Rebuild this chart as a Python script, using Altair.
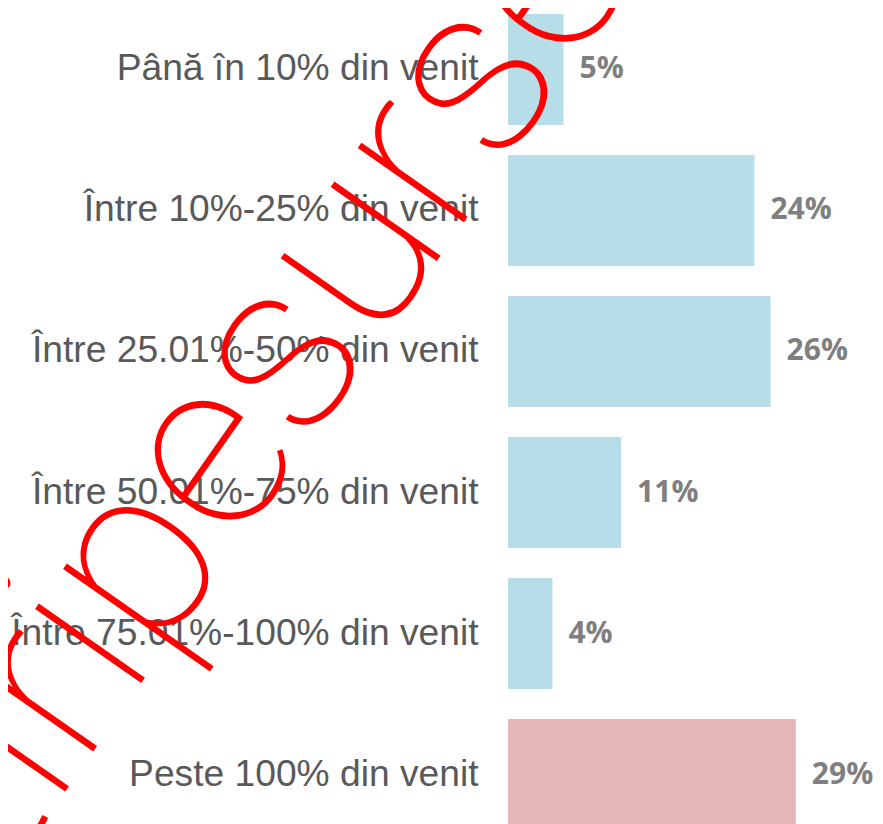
import altair as alt
import pandas as pd

categories = [
    "Până în 10% din venit",
    "Între 10%-25% din venit",
    "Între 25.01%-50% din venit",
    "Între 50.01%-75% din venit",
    "Între 75.01%-100% din venit",
    "Peste 100% din venit",
]
values = [5.5, 24.4, 26.0, 11.2, 4.4, 28.5]
value_labels = ["5%", "24%", "26%", "11%", "4%", "29%"]
highlight = "Peste 100% din venit"
watermark = ["stiripesurse"]

df = pd.DataFrame({"categorie": categories, "procent": values, "eticheta": value_labels})

y_enc = alt.Y(
    "categorie:N",
    sort=categories,
    title=None,
    scale=alt.Scale(paddingInner=0.2128, paddingOuter=0, range=[0, 816]),
    axis=alt.Axis(
        domain=False,
        ticks=False,
        labelFont="Liberation Sans",
        labelFontSize=37.2,
        labelColor="#595959",
        labelPadding=30,
        labelLimit=700,
    ),
)
x_enc = alt.X("procent:Q", title=None, axis=None, scale=alt.Scale(domain=[0, 36.34], nice=False))

base = alt.Chart(df)

bars = base.mark_bar().encode(
    x=x_enc,
    y=y_enc,
    color=alt.condition(
        alt.datum.categorie == highlight, alt.value("#E5B8B7"), alt.value("#B7DDE8")
    ),
)

text = base.mark_text(
    align="left",
    baseline="middle",
    dx=16,
    font="Open Sans",
    fontWeight="bold",
    fontSize=30,
    color="#7F7F7F",
).encode(x=x_enc, y=y_enc, text="eticheta:N")

wm = alt.Chart(pd.DataFrame({"t": watermark})).mark_text(
    font="Roboto",
    fontWeight=100,
    fontSize=245,
    color="#FF0000",
    angle=305,
    align="center",
    baseline="alphabetic",
).encode(text="t:N", x=alt.value(-219), y=alt.value(458))

chart = (
    alt.layer(bars, text, wm)
    .properties(
        width=367,
        height=810,
        autosize=alt.AutoSizeParams(type="none"),
        padding={"left": 500, "top": 6, "right": 0, "bottom": 0},
    )
    .configure_view(stroke=None)
)

chart.save("out.html", embed_options={"renderer": "svg", "actions": False})
